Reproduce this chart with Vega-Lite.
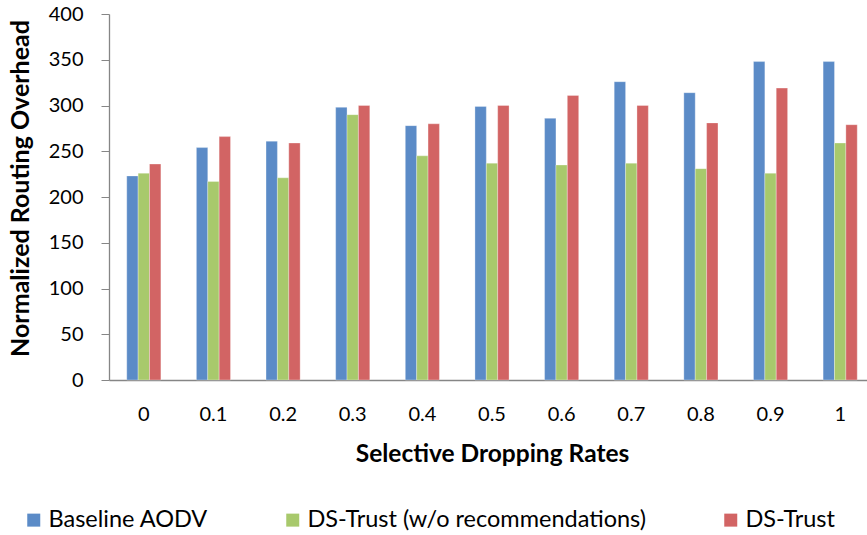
{
  "$schema": "https://vega.github.io/schema/vega-lite/v6.json",
  "autosize": {"type": "none"},
  "padding": {"left": 109, "top": 14, "right": 0, "bottom": 155},
  "width": 766,
  "height": 366,
  "background": "white",
  "config": {
    "view": {"stroke": null},
    "font": "Lato",
    "axis": {"labelFont": "Lato", "titleFont": "Lato", "labelColor": "#000000", "titleColor": "#000000"}
  },
  "data": {
    "values": [
      {"rate": "0", "series": "Baseline AODV", "value": 223},
      {"rate": "0", "series": "DS-Trust (w/o recommendations)", "value": 226},
      {"rate": "0", "series": "DS-Trust", "value": 236},
      {"rate": "0.1", "series": "Baseline AODV", "value": 254},
      {"rate": "0.1", "series": "DS-Trust (w/o recommendations)", "value": 217},
      {"rate": "0.1", "series": "DS-Trust", "value": 266},
      {"rate": "0.2", "series": "Baseline AODV", "value": 261},
      {"rate": "0.2", "series": "DS-Trust (w/o recommendations)", "value": 221},
      {"rate": "0.2", "series": "DS-Trust", "value": 259},
      {"rate": "0.3", "series": "Baseline AODV", "value": 298},
      {"rate": "0.3", "series": "DS-Trust (w/o recommendations)", "value": 290},
      {"rate": "0.3", "series": "DS-Trust", "value": 300},
      {"rate": "0.4", "series": "Baseline AODV", "value": 278},
      {"rate": "0.4", "series": "DS-Trust (w/o recommendations)", "value": 245},
      {"rate": "0.4", "series": "DS-Trust", "value": 280},
      {"rate": "0.5", "series": "Baseline AODV", "value": 299},
      {"rate": "0.5", "series": "DS-Trust (w/o recommendations)", "value": 237},
      {"rate": "0.5", "series": "DS-Trust", "value": 300},
      {"rate": "0.6", "series": "Baseline AODV", "value": 286},
      {"rate": "0.6", "series": "DS-Trust (w/o recommendations)", "value": 235},
      {"rate": "0.6", "series": "DS-Trust", "value": 311},
      {"rate": "0.7", "series": "Baseline AODV", "value": 326},
      {"rate": "0.7", "series": "DS-Trust (w/o recommendations)", "value": 237},
      {"rate": "0.7", "series": "DS-Trust", "value": 300},
      {"rate": "0.8", "series": "Baseline AODV", "value": 314},
      {"rate": "0.8", "series": "DS-Trust (w/o recommendations)", "value": 231},
      {"rate": "0.8", "series": "DS-Trust", "value": 281},
      {"rate": "0.9", "series": "Baseline AODV", "value": 348},
      {"rate": "0.9", "series": "DS-Trust (w/o recommendations)", "value": 226},
      {"rate": "0.9", "series": "DS-Trust", "value": 319},
      {"rate": "1", "series": "Baseline AODV", "value": 348},
      {"rate": "1", "series": "DS-Trust (w/o recommendations)", "value": 259},
      {"rate": "1", "series": "DS-Trust", "value": 279}
    ]
  },
  "mark": {"type": "bar", "stroke": "white", "strokeWidth": 0.5, "strokeOpacity": 0.6},
  "encoding": {
    "x": {
      "field": "rate",
      "type": "nominal",
      "sort": null,
      "scale": {"paddingInner": 0.51, "paddingOuter": 0.255},
      "axis": {
        "title": "Selective Dropping Rates",
        "titleFontSize": 24.5,
        "titleFontWeight": "bold",
        "titleBaseline": "middle",
        "titleY": 74,
        "labelAngle": 0,
        "labelFontSize": 20,
        "labelPadding": 24,
        "ticks": false,
        "domainColor": "#868686",
        "domainWidth": 1.3
      }
    },
    "xOffset": {
      "field": "series",
      "type": "nominal",
      "sort": ["Baseline AODV", "DS-Trust (w/o recommendations)", "DS-Trust"],
      "scale": {"paddingInner": 0, "paddingOuter": 0}
    },
    "y": {
      "field": "value",
      "type": "quantitative",
      "scale": {"domain": [0, 400], "nice": false},
      "axis": {
        "title": "Normalized Routing Overhead",
        "titleFontSize": 25,
        "titleFontWeight": "bold",
        "titleAngle": -90,
        "titleX": -89,
        "titleY": 174,
        "titleAlign": "center",
        "titleBaseline": "middle",
        "values": [0, 50, 100, 150, 200, 250, 300, 350, 400],
        "grid": false,
        "labelFontSize": 20,
        "labelPadding": 18,
        "tickSize": 8,
        "tickColor": "#868686",
        "domainColor": "#868686",
        "domainWidth": 1.3
      }
    },
    "color": {
      "field": "series",
      "type": "nominal",
      "sort": ["Baseline AODV", "DS-Trust (w/o recommendations)", "DS-Trust"],
      "scale": {
        "domain": ["Baseline AODV", "DS-Trust (w/o recommendations)", "DS-Trust"],
        "range": ["#5B8BC7", "#A8C96C", "#D26464"]
      },
      "legend": {
        "title": null,
        "orient": "none",
        "direction": "horizontal",
        "legendX": -87,
        "legendY": 494,
        "symbolType": "square",
        "symbolSize": 169,
        "symbolStrokeWidth": 0,
        "labelFontSize": 23.5,
        "labelFont": "Lato",
        "labelColor": "#000000",
        "labelOffset": 3,
        "columnPadding": 72,
        "labelLimit": 500
      }
    }
  }
}
